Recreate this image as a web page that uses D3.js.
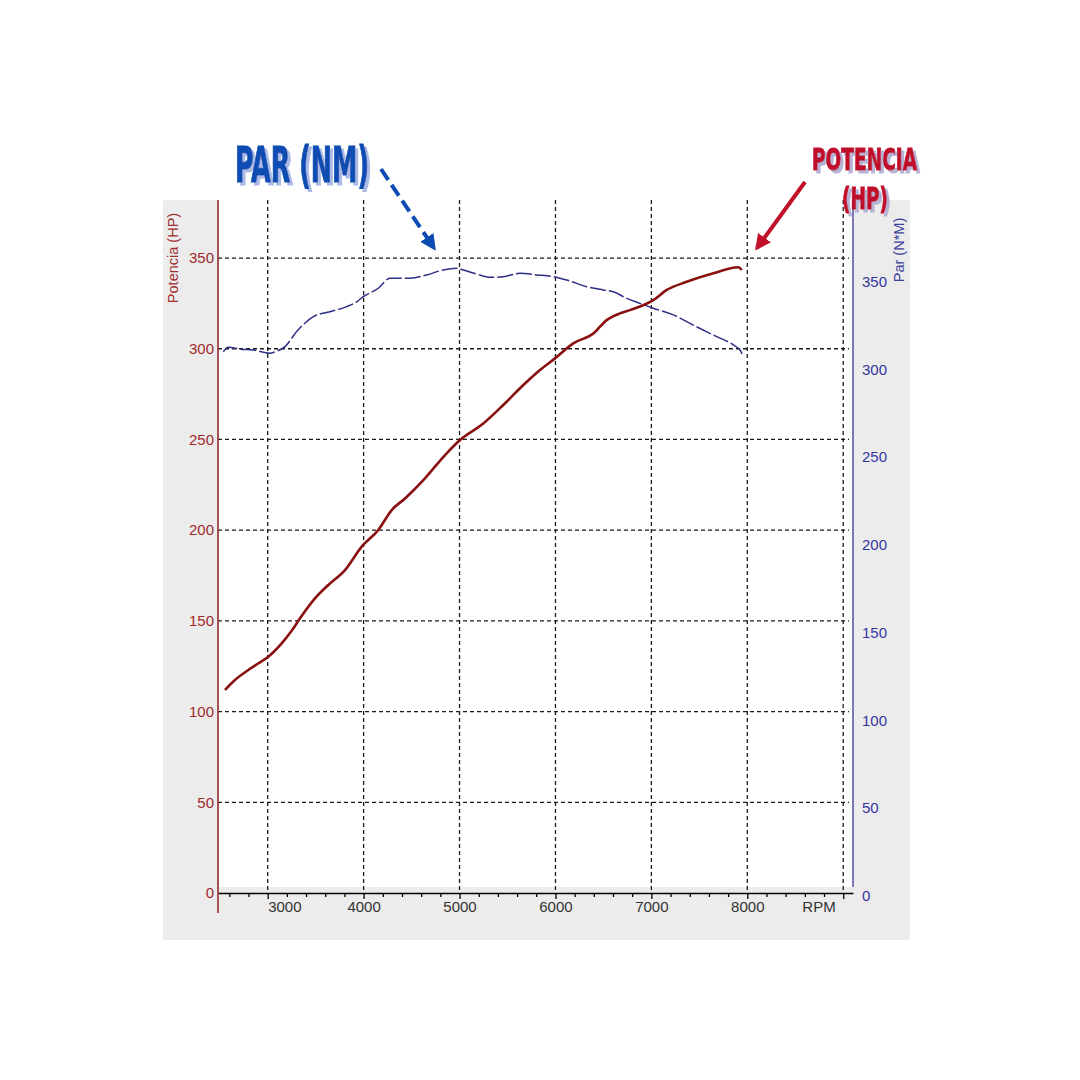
<!DOCTYPE html>
<html>
<head>
<meta charset="utf-8">
<script src="https://cdn.jsdelivr.net/npm/d3@7"></script>
<style>
  html, body { margin: 0; padding: 0; background: #ffffff; }
  svg { display: block; }
</style>
</head>
<body>
<svg id="chart" width="1080" height="1080"></svg>
<script>
// ---------------- DATA ----------------
const rpmMajorTicks = [3000, 4000, 5000, 6000, 7000, 8000];
const rpmMinorTicks = [2600, 2800, 3200, 3400, 3600, 3800, 4200, 4400, 4600, 4800,
  5200, 5400, 5600, 5800, 6200, 6400, 6600, 6800, 7200, 7400, 7600, 7800,
  8200, 8400, 8600, 8800];
const rpmEndTick = 9000;
const hpTicks = [0, 50, 100, 150, 200, 250, 300, 350];
const nmTicks = [0, 50, 100, 150, 200, 250, 300, 350];

const powerRpm = [2555, 2650, 2798, 2900, 3006, 3146, 3250, 3337, 3493, 3632, 3806, 3980, 4153, 4293,
  4432, 4640, 4849, 5005, 5248, 5456, 5665, 5839, 5995, 6186, 6395, 6534, 6673,
  6777, 7020, 7160, 7368, 7646, 7906, 7942];
const powerHp = [111.9, 117, 122.9, 126.5, 130.2, 137.6, 144.5, 151.4, 162.4, 169.8, 178, 190.9, 200.1, 211.1,
  217.5, 228.6, 241.4, 249.7, 258.8, 269, 280, 288.3, 294.7, 303, 308.4, 315.8, 319.5,
  321.3, 326.8, 332.4, 336.9, 341.6, 344.9, 343.4];

const torqueRpm = [2537, 2589, 2711, 2850, 3024, 3076, 3180, 3302, 3476, 3650, 3824, 3928, 3997,
  4153, 4275, 4484, 4658, 4831, 4971, 5039, 5179, 5318, 5456, 5630, 5804, 5978, 6117,
  6326, 6499, 6603, 6743, 6881, 7020, 7229, 7437, 7646, 7854, 7924, 7958];
const torqueNm = [308.5, 311, 310, 309.5, 307.6, 308.5, 311.4, 320, 328.5, 331.3, 334.2, 337, 339.9,
  344.7, 350.4, 350.4, 352.3, 355.1, 356.1, 355.1, 352.8, 350.9, 351.3, 353.2, 352.3, 351.3, 349.4,
  345.6, 343.7, 342.7, 338.9, 336.1, 333.3, 329.5, 323.7, 318, 312.4, 309.5, 305.7];

// ---------------- LAYOUT ----------------
const svg = d3.select("#chart");
const L = 218, R = 853, T = 200, B = 893;

const x = d3.scaleLinear().domain([2482, 9102]).range([L, R]);
const yL = d3.scaleLinear().domain([0, 382]).range([B, T]);
const yR = d3.scaleLinear().domain([0, 395]).range([B, T]);

const defs = svg.append("defs");
const fBlue = defs.append("filter").attr("id", "shBlue").attr("x", "-10%").attr("y", "-10%")
  .attr("width", "130%").attr("height", "130%");
fBlue.append("feDropShadow").attr("dx", 3).attr("dy", 3).attr("stdDeviation", 0.6)
  .attr("flood-color", "#a9bbe6").attr("flood-opacity", 1);
const fRed = defs.append("filter").attr("id", "shRed").attr("x", "-10%").attr("y", "-10%")
  .attr("width", "130%").attr("height", "130%");
fRed.append("feDropShadow").attr("dx", 3).attr("dy", 3).attr("stdDeviation", 0.6)
  .attr("flood-color", "#b7b3d6").attr("flood-opacity", 1);

// gray panel
svg.append("rect").attr("x", 163).attr("y", 200).attr("width", 747).attr("height", 740)
  .attr("fill", "#ececec");
// white plot area
svg.append("rect").attr("x", L + 1).attr("y", T).attr("width", R - L - 1).attr("height", 887 - T)
  .attr("fill", "#ffffff");

// grid
const grid = svg.append("g").attr("stroke", "#1a1a1a").attr("stroke-width", 1.3)
  .attr("stroke-dasharray", "4,3").attr("fill", "none");
rpmMajorTicks.concat([rpmEndTick]).forEach(v => {
  grid.append("line").attr("x1", x(v)).attr("x2", x(v)).attr("y1", T).attr("y2", B);
});
hpTicks.filter(v => v > 0).forEach(v => {
  grid.append("line").attr("x1", L).attr("x2", 849).attr("y1", yL(v)).attr("y2", yL(v));
});

// bottom axis
const xMinor = d3.axisBottom(x).tickValues(rpmMinorTicks).tickSize(4).tickFormat("").tickSizeOuter(0);
const gMinor = svg.append("g").attr("transform", `translate(0,${B})`).call(xMinor);
gMinor.select(".domain").attr("stroke", "#000").attr("stroke-width", 1.5);
gMinor.selectAll(".tick line").attr("stroke", "#000").attr("stroke-width", 1.3);

const xMajor = d3.axisBottom(x).tickValues(rpmMajorTicks.concat([rpmEndTick])).tickSize(6)
  .tickFormat(d => d === rpmEndTick ? "RPM" : d).tickSizeOuter(0);
const gMajor = svg.append("g").attr("transform", `translate(0,${B})`).call(xMajor);
gMajor.select(".domain").remove();
gMajor.selectAll(".tick line").attr("stroke", "#000").attr("stroke-width", 1.3);
gMajor.selectAll(".tick text")
  .attr("font-family", "Liberation Sans, Arial, sans-serif")
  .attr("font-size", 15).attr("fill", "#333")
  .attr("y", 8)
  .attr("text-anchor", d => d === rpmMajorTicks[0] ? "start" : (d === rpmEndTick ? "end" : "middle"))
  .attr("dx", d => d === rpmEndTick ? -8 : 0);

// left axis
svg.append("line").attr("x1", L).attr("x2", L).attr("y1", T).attr("y2", 913)
  .attr("stroke", "#9a2a2a").attr("stroke-width", 1.6);
const yLeftAxis = d3.axisLeft(yL).tickValues(hpTicks).tickSize(0).tickPadding(4);
const gL = svg.append("g").attr("transform", `translate(${L},0)`).call(yLeftAxis);
gL.select(".domain").remove();
gL.selectAll(".tick text").attr("font-family", "Liberation Sans, Arial, sans-serif")
  .attr("font-size", 15).attr("fill", "#a02a2a");

// right axis
svg.append("line").attr("x1", R).attr("x2", R).attr("y1", T).attr("y2", 887)
  .attr("stroke", "#5a5aa8").attr("stroke-width", 1.6);
const yRightAxis = d3.axisRight(yR).tickValues(nmTicks).tickSize(0).tickPadding(9);
const gR = svg.append("g").attr("transform", `translate(${R},0)`).call(yRightAxis);
gR.select(".domain").remove();
gR.selectAll(".tick text").attr("font-family", "Liberation Sans, Arial, sans-serif")
  .attr("font-size", 15).attr("fill", "#3535a0").attr("dy", "0.5em");

// axis titles
svg.append("text").attr("transform", "translate(178,258) rotate(-90)")
  .attr("text-anchor", "middle").attr("font-family", "Liberation Sans, Arial, sans-serif")
  .attr("font-size", 14.5).attr("fill", "#a03030").text("Potencia (HP)");
svg.append("text").attr("transform", "translate(904,250) rotate(-90)")
  .attr("text-anchor", "middle").attr("font-family", "Liberation Sans, Arial, sans-serif")
  .attr("font-size", 14.5).attr("fill", "#4040a0").text("Par (N*M)");

// curves
const powerData = powerRpm.map((r, i) => [r, powerHp[i]]);
const torqueData = torqueRpm.map((r, i) => [r, torqueNm[i]]);

svg.append("path").datum(torqueData)
  .attr("d", d3.line().x(d => x(d[0])).y(d => yR(d[1])).curve(d3.curveMonotoneX))
  .attr("fill", "none").attr("stroke", "#2e2e86").attr("stroke-width", 1.5)
  .attr("stroke-dasharray", "16,3");

svg.append("path").datum(powerData)
  .attr("d", d3.line().x(d => x(d[0])).y(d => yL(d[1])).curve(d3.curveMonotoneX))
  .attr("fill", "none").attr("stroke", "#8a1010").attr("stroke-width", 2.6)
  .attr("stroke-linejoin", "round");

// annotations
defs.append("marker").attr("id", "arrBlue").attr("viewBox", "0 0 10 10")
  .attr("refX", 8).attr("refY", 5).attr("markerWidth", 4).attr("markerHeight", 4)
  .attr("markerUnits", "strokeWidth").attr("orient", "auto")
  .append("path").attr("d", "M0,0 L10,5 L0,10 Z").attr("fill", "#0d4db3");
defs.append("marker").attr("id", "arrRed").attr("viewBox", "0 0 10 10")
  .attr("refX", 8).attr("refY", 5).attr("markerWidth", 4).attr("markerHeight", 4)
  .attr("markerUnits", "strokeWidth").attr("orient", "auto")
  .append("path").attr("d", "M0,0 L10,5 L0,10 Z").attr("fill", "#c0102a");

svg.append("line").attr("x1", 381).attr("y1", 169).attr("x2", 434).attr("y2", 248)
  .attr("stroke", "#0d4db3").attr("stroke-width", 4).attr("stroke-dasharray", "13,6")
  .attr("marker-end", "url(#arrBlue)");
svg.append("line").attr("x1", 805).attr("y1", 182).attr("x2", 757).attr("y2", 248)
  .attr("stroke", "#c0102a").attr("stroke-width", 4)
  .attr("marker-end", "url(#arrRed)");

const bigFont = "DejaVu Sans Condensed, DejaVu Sans, sans-serif";
function bigText(txt, x0, y0, size, len, color, filterId) {
  svg.append("text").attr("x", x0).attr("y", y0)
    .attr("font-family", bigFont).attr("font-weight", "bold").attr("font-size", size)
    .attr("textLength", len).attr("lengthAdjust", "spacingAndGlyphs")
    .attr("fill", color).attr("stroke", color).attr("stroke-width", 1)
    .attr("filter", `url(#${filterId})`).text(txt);
}
bigText("PAR (NM)", 235, 182, 50, 134, "#0d4db3", "shBlue");
bigText("POTENCIA", 812, 170, 31, 105, "#c0102a", "shRed");
bigText("(HP)", 842, 209, 30, 46, "#c0102a", "shRed");
</script>
</body>
</html>
